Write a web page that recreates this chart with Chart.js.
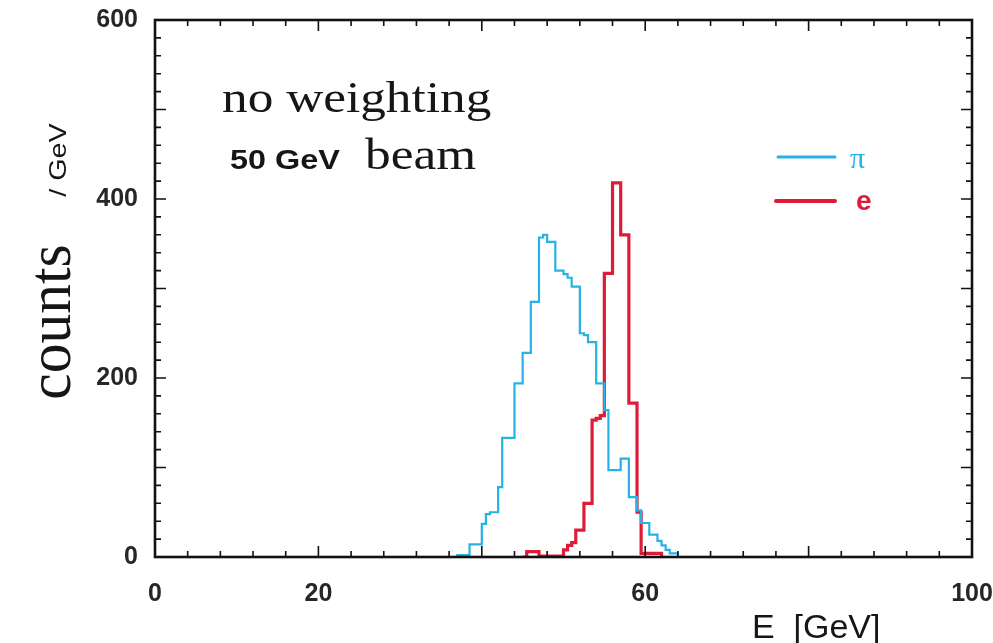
<!DOCTYPE html>
<html>
<head>
<meta charset="utf-8">
<title>counts / GeV</title>
<script src="https://cdn.jsdelivr.net/npm/chart.js@4.4.0/dist/chart.umd.min.js"></script>
<style>
  html, body { margin: 0; padding: 0; background: #fff; }
</style>
</head>
<body>
<canvas id="graph" width="993" height="643"></canvas>
<script>
// lower edge of every 0.5 GeV bin
var binLow = [
  36.5, 37.0, 37.5, 38.0, 38.5, 39.0, 39.5, 40.0, 40.5, 41.0, 41.5, 42.0, 42.5, 43.0,
  43.5, 44.0, 44.5, 45.0, 45.5, 46.0, 46.5, 47.0, 47.5, 48.0, 48.5, 49.0, 49.5, 50.0,
  50.5, 51.0, 51.5, 52.0, 52.5, 53.0, 53.5, 54.0, 54.5, 55.0, 55.5, 56.0, 56.5, 57.0,
  57.5, 58.0, 58.5, 59.0, 59.5, 60.0, 60.5, 61.0, 61.5, 62.0, 62.5, 63.0, 63.5, 64.0
];

// pions
var piCounts = [
  0, 2, 2, 2, 14, 14, 14, 37, 48, 50, 50, 78, 133, 133,
  133, 194, 194, 228, 228, 285, 285, 357, 360, 352, 352, 320, 320, 316,
  312, 302, 302, 250, 248, 240, 240, 194, 194, 164, 97, 97, 97, 110,
  110, 67, 67, 52, 38, 38, 25, 25, 18, 13, 8, 4, 4, 0
];

// electrons (null = bin not filled)
var eCounts = [
  null, null, null, null, null, null, null, null, null, null, null, null, null, null,
  null, null, null, 0, 6, 6, 6, 1, 1, 1, 1, 1, 1, 8,
  13, 16, 30, 30, 60, 60, 153, 155, 158, 317, 317, 418, 418, 360,
  360, 172, 172, 50, 4, 4, 4, 4, 4, 0, null, null, null, null
];

var xTickLabels = [0, 20, 60, 100];
var yTickLabels = [0, 200, 400, 600];

var piColor = 'rgb(38, 178, 228)';
var eColor = 'rgb(222, 28, 58)';

function histPoints(edges, counts) {
  var pts = [];
  for (var i = 0; i < edges.length; i++) {
    if (counts[i] === null) continue;
    pts.push({ x: edges[i], y: counts[i] });
  }
  return pts;
}

function stretchText(ctx, str, x, y, font, sx, angle) {
  ctx.save();
  ctx.translate(x, y);
  if (angle) ctx.rotate(angle);
  ctx.scale(sx, 1);
  ctx.font = font;
  ctx.fillText(str, 0, 0);
  ctx.restore();
}

// inward ticks on all four sides plus the box
var frameTicks = {
  id: 'frameTicks',
  afterDatasetsDraw: function (chart) {
    var ctx = chart.ctx, a = chart.chartArea;
    var xs = chart.scales.x, ys = chart.scales.y;
    ctx.save();
    ctx.strokeStyle = '#111';
    ctx.lineWidth = 1.6;
    ctx.beginPath();
    for (var v = 0; v <= 100; v += 4) {
      var px = xs.getPixelForValue(v);
      var len = v % 20 === 0 ? 11 : 6;
      ctx.moveTo(px, a.bottom); ctx.lineTo(px, a.bottom - len);
      ctx.moveTo(px, a.top); ctx.lineTo(px, a.top + len);
    }
    for (var w = 0; w <= 600; w += 20) {
      var py = ys.getPixelForValue(w);
      var l2 = w % 100 === 0 ? 11 : 6;
      ctx.moveTo(a.left, py); ctx.lineTo(a.left + l2, py);
      ctx.moveTo(a.right, py); ctx.lineTo(a.right - l2, py);
    }
    ctx.stroke();
    ctx.lineWidth = 2.6;
    ctx.strokeRect(a.left, a.top, a.right - a.left, a.bottom - a.top);
    ctx.restore();
  }
};

// titles, labels and the little legend
var notes = {
  id: 'notes',
  afterDraw: function (chart) {
    var ctx = chart.ctx;
    ctx.save();
    ctx.fillStyle = '#161616';
    ctx.textBaseline = 'alphabetic';
    ctx.textAlign = 'left';
    stretchText(ctx, 'no weighting', 222, 112, '45px "Liberation Serif"', 1.14);
    stretchText(ctx, '50 GeV', 230, 169, 'bold 27px "Liberation Sans"', 1.2);
    stretchText(ctx, 'beam', 365, 169, '45px "Liberation Serif"', 1.14);
    ctx.font = '34px "Liberation Sans"';
    ctx.fillText('E  [GeV]', 752, 638);

    ctx.textAlign = 'center';
    stretchText(ctx, 'counts', 70, 322, '62px "Liberation Serif"', 0.96, -Math.PI / 2);
    stretchText(ctx, '/ GeV', 66, 160, '24px "Liberation Sans"', 1.2, -Math.PI / 2);

    // legend
    ctx.lineCap = 'round';
    ctx.strokeStyle = piColor;
    ctx.lineWidth = 3;
    ctx.beginPath(); ctx.moveTo(778, 157); ctx.lineTo(835, 157); ctx.stroke();
    ctx.strokeStyle = eColor;
    ctx.lineWidth = 4;
    ctx.beginPath(); ctx.moveTo(776, 201); ctx.lineTo(835, 201); ctx.stroke();
    ctx.textAlign = 'left';
    ctx.fillStyle = piColor;
    ctx.font = '30px "Liberation Serif"';
    ctx.fillText('\u03c0', 850, 168);
    ctx.fillStyle = eColor;
    ctx.font = 'bold 28px "Liberation Sans"';
    ctx.fillText('e', 856, 210);
    ctx.restore();
  }
};

var data = {
  datasets: [{
    label: '\u03c0',
    data: histPoints(binLow, piCounts),
    borderColor: piColor,
    borderWidth: 2.2,
    stepped: true,
    pointRadius: 0,
    fill: false
  }, {
    label: 'e',
    data: histPoints(binLow, eCounts),
    borderColor: eColor,
    borderWidth: 3.2,
    stepped: true,
    pointRadius: 0,
    fill: false
  }]
};

var config = {
  type: 'line',
  data: data,
  options: {
    responsive: false,
    animation: false,
    layout: { padding: { top: 20, right: 21, left: 0, bottom: 0 } },
    plugins: { legend: { display: false }, tooltip: { enabled: false } },
    scales: {
      x: {
        type: 'linear',
        min: 0,
        max: 100,
        grid: { display: false, drawTicks: false },
        border: { display: false },
        ticks: {
          stepSize: 20,
          padding: 22,
          color: '#262626',
          font: { family: 'Liberation Sans', size: 25, weight: 'bold' },
          maxRotation: 0,
          callback: function (v) { return xTickLabels.indexOf(v) >= 0 ? String(v) : ''; }
        },
        afterFit: function (s) {
          s.height = 86;
          s.paddingLeft = 0;
          s.paddingRight = 0;
        }
      },
      y: {
        min: 0,
        max: 600,
        grid: { display: false, drawTicks: false },
        border: { display: false },
        ticks: {
          stepSize: 200,
          padding: 17,
          color: '#262626',
          font: { family: 'Liberation Sans', size: 25, weight: 'bold' },
          callback: function (v) { return yTickLabels.indexOf(v) >= 0 ? String(v) : ''; }
        },
        afterFit: function (s) {
          s.width = 155;
          s.paddingTop = 0;
          s.paddingBottom = 0;
        }
      }
    }
  },
  plugins: [frameTicks, notes]
};

var graph = new Chart(document.getElementById('graph'), config);
</script>
</body>
</html>
